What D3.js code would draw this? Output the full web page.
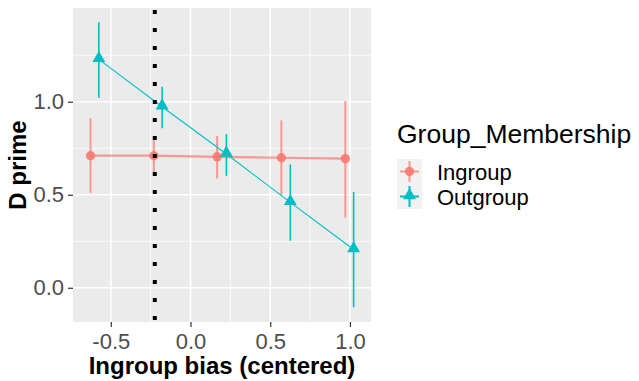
<!DOCTYPE html>
<html>
<head>
<meta charset="utf-8">
<script src="https://cdn.jsdelivr.net/npm/d3@7"></script>
<style>
  body { margin: 0; background: #ffffff; }
  svg { display: block; font-family: "Liberation Sans", Arial, sans-serif; }
</style>
</head>
<body>
<svg id="chart" width="639" height="381"></svg>
<script>
// data
var ingroupX = [-0.627, -0.23, 0.167, 0.570, 0.971];
var ingroupY = [0.71, 0.71, 0.704, 0.699, 0.694];
var ingroupLo = [0.511, 0.62, 0.588, 0.498, 0.378];
var ingroupHi = [0.911, 0.80, 0.816, 0.90, 1.004];

var outgroupX = [-0.575, -0.178, 0.225, 0.626, 1.023];
var outgroupY = [1.228, 0.973, 0.719, 0.459, 0.206];
var outgroupLo = [1.021, 0.857, 0.602, 0.253, -0.105];
var outgroupHi = [1.428, 1.081, 0.826, 0.663, 0.515];

var cutoffX = -0.224;

var xTicks = [-0.5, 0.0, 0.5, 1.0];
var xMinor = [-0.25, 0.25, 0.75];
var yTicks = [0.0, 0.5, 1.0];
var yMinor = [0.25, 0.75, 1.25];

var groups = ["Ingroup", "Outgroup"];
var colors = ["#F8766D", "#00BFC4"];

var panel = { left: 73, right: 371, top: 8, bottom: 322 };

var svg = d3.select("#chart");

var x = d3.scaleLinear().domain([-0.737, 1.132]).range([panel.left, panel.right]);
var y = d3.scaleLinear().domain([-0.184, 1.504]).range([panel.bottom, panel.top]);

// plain hyphen for negative labels, like R
var fmt = function(d) { return d.toFixed(1); };

// panel background
svg.append("rect")
  .attr("x", panel.left).attr("y", panel.top)
  .attr("width", panel.right - panel.left).attr("height", panel.bottom - panel.top)
  .attr("fill", "#EBEBEB");

// grid
var grid = svg.append("g");
grid.selectAll(".xminor").data(xMinor).enter().append("line")
  .attr("x1", function(d) { return x(d); }).attr("x2", function(d) { return x(d); })
  .attr("y1", panel.top).attr("y2", panel.bottom)
  .attr("stroke", "#ffffff").attr("stroke-width", 0.8);
grid.selectAll(".yminor").data(yMinor).enter().append("line")
  .attr("y1", function(d) { return y(d); }).attr("y2", function(d) { return y(d); })
  .attr("x1", panel.left).attr("x2", panel.right)
  .attr("stroke", "#ffffff").attr("stroke-width", 0.8);
grid.selectAll(".xmajor").data(xTicks).enter().append("line")
  .attr("x1", function(d) { return x(d); }).attr("x2", function(d) { return x(d); })
  .attr("y1", panel.top).attr("y2", panel.bottom)
  .attr("stroke", "#ffffff").attr("stroke-width", 1.6);
grid.selectAll(".ymajor").data(yTicks).enter().append("line")
  .attr("y1", function(d) { return y(d); }).attr("y2", function(d) { return y(d); })
  .attr("x1", panel.left).attr("x2", panel.right)
  .attr("stroke", "#ffffff").attr("stroke-width", 1.6);

// axes
var xAxis = d3.axisBottom(x).tickValues(xTicks).tickSize(5).tickPadding(6).tickFormat(fmt);
var gx = svg.append("g").attr("transform", "translate(0," + panel.bottom + ")").call(xAxis);
gx.select(".domain").remove();
gx.selectAll(".tick line").attr("stroke", "#333333").attr("stroke-width", 1.2);
gx.selectAll(".tick text").attr("fill", "#4D4D4D").attr("font-size", "22px")
  .attr("font-family", "Liberation Sans, Arial, sans-serif");

var yAxis = d3.axisLeft(y).tickValues(yTicks).tickSize(5).tickPadding(4).tickFormat(fmt);
var gy = svg.append("g").attr("transform", "translate(" + panel.left + ",0)").call(yAxis);
gy.select(".domain").remove();
gy.selectAll(".tick line").attr("stroke", "#333333").attr("stroke-width", 1.2);
gy.selectAll(".tick text").attr("fill", "#4D4D4D").attr("font-size", "22px")
  .attr("font-family", "Liberation Sans, Arial, sans-serif");

// axis titles
svg.append("text")
  .attr("x", (panel.left + panel.right) / 2).attr("y", 374)
  .attr("text-anchor", "middle").attr("font-size", "24px").attr("font-weight", "bold")
  .attr("fill", "#000000").text("Ingroup bias (centered)");
svg.append("text")
  .attr("transform", "translate(26," + ((panel.top + panel.bottom) / 2) + ") rotate(-90)")
  .attr("text-anchor", "middle").attr("font-size", "24px").attr("font-weight", "bold")
  .attr("fill", "#000000").text("D prime");

// series
function series(xs, ys, lo, hi) {
  return xs.map(function(d, i) { return { x: d, y: ys[i], lo: lo[i], hi: hi[i] }; });
}
var ingroup = series(ingroupX, ingroupY, ingroupLo, ingroupHi);
var outgroup = series(outgroupX, outgroupY, outgroupLo, outgroupHi);

var line = d3.line().x(function(d) { return x(d.x); }).y(function(d) { return y(d.y); });

var gIn = svg.append("g");
gIn.append("path").datum(ingroup).attr("d", line)
  .attr("fill", "none").attr("stroke", colors[0]).attr("stroke-width", 2.2).attr("stroke-opacity", 0.7);
gIn.selectAll(".err").data(ingroup).enter().append("line")
  .attr("x1", function(d) { return x(d.x); }).attr("x2", function(d) { return x(d.x); })
  .attr("y1", function(d) { return y(d.lo); }).attr("y2", function(d) { return y(d.hi); })
  .attr("stroke", colors[0]).attr("stroke-width", 2).attr("stroke-opacity", 0.7);
gIn.selectAll(".pt").data(ingroup).enter().append("circle")
  .attr("cx", function(d) { return x(d.x); }).attr("cy", function(d) { return y(d.y); })
  .attr("r", 4.7).attr("fill", colors[0]).attr("fill-opacity", 0.85);

var tri = d3.symbol().type(d3.symbolTriangle).size(72);
var gOut = svg.append("g");
gOut.append("path").datum(outgroup).attr("d", line)
  .attr("fill", "none").attr("stroke", colors[1]).attr("stroke-width", 1.1);
gOut.selectAll(".err").data(outgroup).enter().append("line")
  .attr("x1", function(d) { return x(d.x); }).attr("x2", function(d) { return x(d.x); })
  .attr("y1", function(d) { return y(d.lo); }).attr("y2", function(d) { return y(d.hi); })
  .attr("stroke", colors[1]).attr("stroke-width", 1.6);
gOut.selectAll(".pt").data(outgroup).enter().append("path")
  .attr("d", tri)
  .attr("transform", function(d) { return "translate(" + x(d.x) + "," + (y(d.y) - 1) + ")"; })
  .attr("fill", colors[1]);

// dotted cut-off line
svg.append("line")
  .attr("x1", x(cutoffX)).attr("x2", x(cutoffX))
  .attr("y1", panel.top + 2).attr("y2", panel.bottom)
  .attr("stroke", "#000000").attr("stroke-width", 4).attr("stroke-dasharray", "4,14");

// legend
var legend = svg.append("g");
legend.append("text").attr("x", 397).attr("y", 142.5)
  .attr("font-size", "26.5px").attr("fill", "#000000").text("Group_Membership");

var keys = legend.selectAll(".key").data(groups).enter().append("g")
  .attr("transform", function(d, i) { return "translate(397," + (159 + i * 25) + ")"; });
keys.append("rect").attr("width", 25).attr("height", 25).attr("fill", "#F2F2F2");
keys.append("line").attr("x1", 3).attr("x2", 22).attr("y1", 12.5).attr("y2", 12.5)
  .attr("stroke", function(d, i) { return colors[i]; }).attr("stroke-width", 2)
  .attr("stroke-opacity", function(d, i) { return i === 0 ? 0.7 : 1; });
keys.append("line").attr("x1", 12.5).attr("x2", 12.5).attr("y1", 2).attr("y2", 23)
  .attr("stroke", function(d, i) { return colors[i]; }).attr("stroke-width", 2)
  .attr("stroke-opacity", function(d, i) { return i === 0 ? 0.7 : 1; });
keys.filter(function(d, i) { return i === 0; }).append("circle")
  .attr("cx", 12.5).attr("cy", 12.5).attr("r", 4.7).attr("fill", colors[0]).attr("fill-opacity", 0.85);
keys.filter(function(d, i) { return i === 1; }).append("path")
  .attr("d", tri).attr("transform", "translate(12.5,11.5)").attr("fill", colors[1]);
keys.append("text").attr("x", 40).attr("y", 20.5)
  .attr("font-size", "22px").attr("fill", "#000000").text(function(d) { return d; });
</script>
</body>
</html>
